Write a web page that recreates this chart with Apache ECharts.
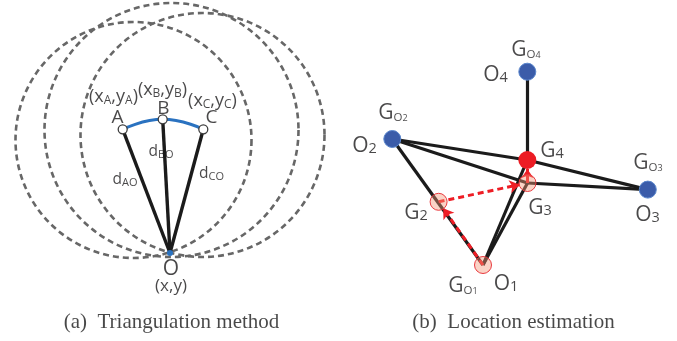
<!DOCTYPE html>
<html>
<head>
<meta charset="utf-8">
<script src="https://cdn.jsdelivr.net/npm/echarts@6/dist/echarts.min.js"></script>
<style>
  html, body { margin: 0; padding: 0; background: #fff; }
  #chart { width: 677px; height: 341px; }
</style>
</head>
<body>
<div id="chart"></div>
<script>
// ---------- Panel (a): triangulation from three reference points ----------
const refNames = ['A', 'B', 'C'];
const refX = [122.7, 162.7, 203.3];
const refY = [129.3, 119.3, 129.3];
const targetX = 170;          // unknown position O = (x, y)
const targetY = 253;
// dashed range circles around the reference points
const rangeCx = [133.5, 171.5, 202.5];
const rangeCy = [140, 130, 135];
const rangeR = [118, 127, 122];

// ---------- Panel (b): location estimation ----------
const nodeNames = ['O1', 'O2', 'O3', 'O4'];
const nodeX = [483, 392.3, 647.8, 527.3];
const nodeY = [265, 139, 189.6, 71.7];
const estNames = ['G2', 'G3', 'G4'];
const estX = [438.6, 527.5, 527.3];
const estY = [201.8, 183, 160];
// straight links between nodes and estimates
const links = [
  ['O4', 'G4'], ['O2', 'G4'], ['G4', 'O3'], ['O2', 'G3'],
  ['G3', 'O3'], ['O2', 'O1'], ['O1', 'G3'], ['O1', 'G4']
];
// refinement path of the estimate
const dashedSteps = [['O1', 'G2'], ['G2', 'G3']];
const solidSteps = [['G3', 'G4']];

// ---------- text ----------
const labelsA = [
  '{L|A}', '{L|B}', '{L|C}',
  '{c|(x}{cs|A}{c|,y}{cs|A}{c|)}',
  '{c|(x}{cs|B}{c|,y}{cs|B}{c|)}',
  '{c|(x}{cs|C}{c|,y}{cs|C}{c|)}',
  '{d|d}{ds|BO}', '{d|d}{ds|AO}', '{d|d}{ds|CO}',
  '{o|O}', '{xy|(x,y)}'
];
const labelsAX = [117.5, 163.5, 211.5, 113.5, 162.5, 212.5, 161, 125, 211.5, 171, 171];
const labelsAY = [118, 108.5, 118, 97, 90, 101, 152, 180, 174, 269.5, 286.5];

const labelsB = [
  '{g|G}{so|O}{sd|4}', '{g|O}{n|4}',
  '{g|G}{so|O}{sd|2}', '{g|O}{n|2}',
  '{g|G}{n|4}',
  '{g|G}{so|O}{sd|3}', '{g|O}{n|3}',
  '{g|G}{n|3}', '{g|G}{n|2}',
  '{g|G}{so|O}{sd|1}', '{g|O}{n|1}'
];
const labelsBX = [526, 495.5, 393, 364.5, 552, 648, 647.5, 540, 416, 463, 506];
const labelsBY = [50, 75, 113, 146, 151, 163, 215, 208, 213, 286, 284];

const captions = ['(a)  Triangulation method', '(b)  Location estimation'];
const captionX = [171.5, 513.5];
const captionY = [322, 322];

// ---------- helpers ----------
const TXT = '#1c1a1b';
const SANS = '"Open Sans", "Noto Sans", sans-serif';
const SERIF = '"Liberation Serif", "DejaVu Serif", serif';

const posB = {};
nodeNames.forEach((n, i) => { posB[n] = [nodeX[i], nodeY[i]]; });
estNames.forEach((n, i) => { posB[n] = [estX[i], estY[i]]; });

// stop an arrow just before the centre of its target marker
function pullBack(p, q, gap) {
  const dx = q[0] - p[0], dy = q[1] - p[1];
  const len = Math.hypot(dx, dy);
  return [q[0] - dx / len * gap, q[1] - dy / len * gap];
}
function segs(pairs, gap) {
  return pairs.map(([a, b]) => ({
    coords: [posB[a], gap ? pullBack(posB[a], posB[b], gap) : posB[b]]
  }));
}
function textSeries(texts, xs, ys, rich) {
  return {
    type: 'scatter',
    symbolSize: 1,
    itemStyle: { color: 'rgba(0,0,0,0)' },
    silent: true,
    z: 20,
    data: texts.map((t, i) => ({ value: [xs[i], ys[i]], name: t })),
    label: {
      show: true,
      position: 'inside',
      align: 'center',
      verticalAlign: 'middle',
      color: TXT,
      fontFamily: SANS,
      formatter: p => p.name,
      rich
    }
  };
}
function tok(size, pad, lh) {
  const s = { fontSize: size, fontFamily: SANS, color: TXT, lineHeight: lh };
  if (pad) s.padding = [pad, 0, 0, 0];
  return s;
}

const chart = echarts.init(document.getElementById('chart'), null, { renderer: 'canvas' });

chart.setOption({
  backgroundColor: '#ffffff',
  animation: false,
  grid: { left: 0, right: 0, top: 0, bottom: 0 },
  xAxis: { type: 'value', min: 0, max: 677, show: false },
  yAxis: { type: 'value', min: 0, max: 341, inverse: true, show: false },
  series: [
    // dashed range circles
    {
      type: 'custom',
      coordinateSystem: 'cartesian2d',
      silent: true,
      z: 1,
      data: rangeCx.map((x, i) => [x, rangeCy[i], rangeR[i]]),
      encode: { x: 0, y: 1 },
      renderItem(params, api) {
        const c = api.coord([api.value(0), api.value(1)]);
        const r = api.size([api.value(2), 0])[0];
        return {
          type: 'circle',
          shape: { cx: c[0], cy: c[1], r },
          style: { fill: 'none', stroke: '#676767', lineWidth: 2.6, lineDash: [6, 4] }
        };
      }
    },
    // distance spokes to O
    {
      type: 'lines',
      coordinateSystem: 'cartesian2d',
      silent: true,
      z: 2,
      symbol: 'none',
      lineStyle: { color: '#1b1b1b', width: 3.4, opacity: 1 },
      data: refX.map((x, i) => ({ coords: [[x, refY[i]], [targetX, targetY]] }))
    },
    // arc through A, B, C
    {
      type: 'line',
      silent: true,
      z: 3,
      smooth: true,
      showSymbol: false,
      symbol: 'none',
      lineStyle: { color: '#2a72c0', width: 3 },
      data: refX.map((x, i) => [x, refY[i]])
    },
    // reference points
    {
      type: 'scatter',
      silent: true,
      z: 4,
      symbolSize: 9,
      itemStyle: { color: '#ffffff', borderColor: '#3c3c3c', borderWidth: 1.3, opacity: 1 },
      data: refX.map((x, i) => ({ value: [x, refY[i]], name: refNames[i] }))
    },
    // target O
    {
      type: 'scatter',
      silent: true,
      z: 4,
      symbolSize: 6,
      itemStyle: { color: '#2a72c0', opacity: 1 },
      data: [[targetX, targetY]]
    },
    // panel (b): links
    {
      type: 'lines',
      coordinateSystem: 'cartesian2d',
      silent: true,
      z: 2,
      symbol: 'none',
      lineStyle: { color: '#1b1b1b', width: 3.2, opacity: 1 },
      data: segs(links, 0)
    },
    // refinement steps (dashed)
    {
      type: 'lines',
      coordinateSystem: 'cartesian2d',
      silent: true,
      z: 3,
      symbol: ['none', 'arrow'],
      symbolSize: 10,
      lineStyle: { color: '#ee1d25', width: 3, opacity: 1, type: [6, 4] },
      data: segs(dashedSteps, 8)
    },
    // last refinement step (solid)
    {
      type: 'lines',
      coordinateSystem: 'cartesian2d',
      silent: true,
      z: 3,
      symbol: ['none', 'arrow'],
      symbolSize: 9,
      lineStyle: { color: '#ee1d25', width: 3, opacity: 1 },
      data: segs(solidSteps, 9)
    },
    // intermediate estimates and start node (translucent)
    {
      type: 'scatter',
      silent: true,
      z: 5,
      symbolSize: 17,
      itemStyle: { color: 'rgba(243,150,120,0.42)', borderColor: '#ea3a3f', borderWidth: 1, opacity: 1 },
      data: ['O1', 'G2', 'G3'].map(n => ({ value: posB[n], name: n }))
    },
    // fixed nodes
    {
      type: 'scatter',
      silent: true,
      z: 5,
      symbolSize: 17,
      itemStyle: { color: '#3b5ca9', borderColor: '#5a86cc', borderWidth: 1, opacity: 1 },
      data: ['O2', 'O3', 'O4'].map(n => ({ value: posB[n], name: n }))
    },
    // final estimate
    {
      type: 'scatter',
      silent: true,
      z: 6,
      symbolSize: 18,
      itemStyle: { color: '#ec1c24', opacity: 1 },
      data: [{ value: posB.G4, name: 'G4' }]
    },
    textSeries(labelsA, labelsAX, labelsAY, {
      L: tok(19, 0, 24),
      c: tok(18, 0, 24),
      cs: tok(12, 8, 24),
      d: tok(15.5, 0, 20),
      ds: tok(11, 6, 20),
      o: tok(21, 0, 24),
      xy: tok(17, 0, 22)
    }),
    textSeries(labelsB, labelsBX, labelsBY, {
      g: tok(21, 0, 26),
      n: tok(14.5, 6, 26),
      so: tok(11.5, 10, 26),
      sd: tok(9, 10, 26)
    }),
    {
      type: 'scatter',
      symbolSize: 1,
      itemStyle: { color: 'rgba(0,0,0,0)' },
      silent: true,
      z: 20,
      data: captions.map((t, i) => ({ value: [captionX[i], captionY[i]], name: t })),
      label: {
        show: true,
        position: 'inside',
        align: 'center',
        verticalAlign: 'middle',
        color: '#1a1a1a',
        fontFamily: SERIF,
        fontSize: 21,
        formatter: p => p.name
      }
    }
  ]
});
</script>
</body>
</html>
